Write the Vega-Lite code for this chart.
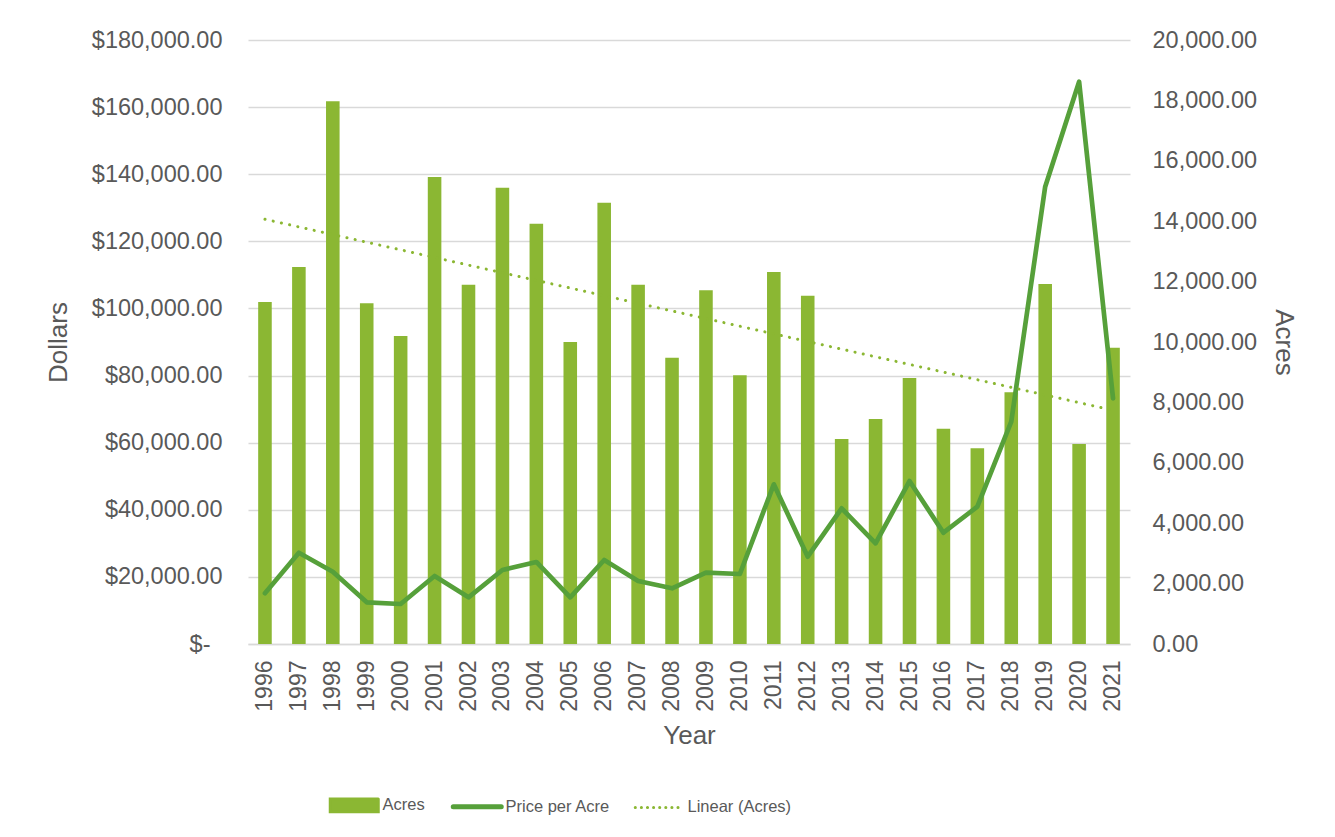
{
  "$schema": "https://vega.github.io/schema/vega-lite/v6.json",
  "width": 882,
  "height": 604,
  "autosize": {"type": "none"},
  "padding": {"left": 248, "top": 40, "right": 205, "bottom": 193},
  "background": "white",
  "config": {
    "view": {"stroke": null},
    "font": "Liberation Sans",
    "axis": {
      "labelFont": "Liberation Sans",
      "titleFont": "Liberation Sans",
      "labelColor": "#595959",
      "titleColor": "#595959",
      "titleFontWeight": "normal",
      "labelFontSize": 23.5,
      "titleFontSize": 26,
      "ticks": false
    }
  },
  "data": {
    "values": [
      {"Year": 1996, "Acres": 11325, "Price": 15110},
      {"Year": 1997, "Acres": 12483, "Price": 27210},
      {"Year": 1998, "Acres": 17970, "Price": 21550},
      {"Year": 1999, "Acres": 11281, "Price": 12420},
      {"Year": 2000, "Acres": 10199, "Price": 11920},
      {"Year": 2001, "Acres": 15464, "Price": 20265},
      {"Year": 2002, "Acres": 11897, "Price": 13910},
      {"Year": 2003, "Acres": 15110, "Price": 22050},
      {"Year": 2004, "Acres": 13917, "Price": 24440},
      {"Year": 2005, "Acres": 10000, "Price": 13910},
      {"Year": 2006, "Acres": 14613, "Price": 25030},
      {"Year": 2007, "Acres": 11897, "Price": 18775},
      {"Year": 2008, "Acres": 9480, "Price": 16600},
      {"Year": 2009, "Acres": 11712, "Price": 21250},
      {"Year": 2010, "Acres": 8897, "Price": 20860},
      {"Year": 2011, "Acres": 12318, "Price": 47590},
      {"Year": 2012, "Acres": 11534, "Price": 26020},
      {"Year": 2013, "Acres": 6788, "Price": 40430},
      {"Year": 2014, "Acres": 7450, "Price": 30000},
      {"Year": 2015, "Acres": 8808, "Price": 48575},
      {"Year": 2016, "Acres": 7130, "Price": 33170},
      {"Year": 2017, "Acres": 6479, "Price": 40920},
      {"Year": 2018, "Acres": 8333, "Price": 66250},
      {"Year": 2019, "Acres": 11921, "Price": 136280},
      {"Year": 2020, "Acres": 6623, "Price": 167570},
      {"Year": 2021, "Acres": 9812, "Price": 73220}
    ]
  },
  "encoding": {
    "x": {
      "field": "Year",
      "type": "ordinal",
      "scale": {"paddingInner": 0.6, "paddingOuter": 0.3},
      "axis": {
        "title": "Year",
        "labelAngle": -90,
        "labelFontSize": 23,
        "labelPadding": 16,
        "domain": true,
        "domainColor": "#D9D9D9",
        "domainWidth": 1.5,
        "grid": false,
        "titlePadding": 11
      }
    }
  },
  "layer": [
    {
      "mark": {"type": "bar"},
      "encoding": {
        "y": {
          "field": "Acres",
          "type": "quantitative",
          "scale": {"domain": [0, 20000], "nice": false},
          "axis": {
            "orient": "right",
            "title": "Acres",
            "values": [0, 2000, 4000, 6000, 8000, 10000, 12000, 14000, 16000, 18000, 20000],
            "format": ",.2f",
            "grid": false,
            "domain": false,
            "labelPadding": 22,
            "titlePadding": 14
          }
        },
        "color": {
          "datum": "Acres",
          "type": "nominal",
          "scale": {
            "domain": ["Acres", "Price per Acre", "Linear (Acres)"],
            "range": ["#8BB733", "#56A03A", "#8BB733"]
          },
          "legend": {
            "title": null,
            "orient": "none",
            "direction": "horizontal",
            "legendX": 98,
            "legendY": 757,
            "padding": 0,
            "symbolSize": 2304,
            "labelFont": "Liberation Sans",
            "labelFontSize": 16.5,
            "labelColor": "#595959",
            "labelOffset": 20,
            "columnPadding": 18,
            "encode": {
              "symbols": {
                "update": {
                  "shape": {"signal": "datum.value === 'Acres' ? 'M-1,-0.27H1V0.27H-1Z' : 'stroke'"},
                  "fill": {"signal": "datum.value === 'Acres' ? '#8BB733' : 'transparent'"},
                  "stroke": {"signal": "datum.value === 'Acres' ? 'transparent' : (datum.value === 'Price per Acre' ? '#56A03A' : '#8BB733')"},
                  "strokeWidth": {"signal": "datum.value === 'Price per Acre' ? 5 : 3"},
                  "strokeDash": {"signal": "datum.value === 'Linear (Acres)' ? [0.1, 6] : [1, 0]"},
                  "strokeCap": {"value": "round"},
                  "opacity": {"value": 1}
                }
              }
            }
          }
        }
      }
    },
    {
      "mark": {"type": "line", "strokeWidth": 4.7, "strokeJoin": "round", "strokeCap": "round"},
      "encoding": {
        "y": {
          "field": "Price",
          "type": "quantitative",
          "scale": {"domain": [0, 180000], "nice": false},
          "axis": {
            "orient": "left",
            "title": "Dollars",
            "values": [0, 20000, 40000, 60000, 80000, 100000, 120000, 140000, 160000, 180000],
            "labelExpr": "datum.value === 0 ? '$-' : '$' + format(datum.value, ',.2f')",
            "grid": true,
            "gridColor": "#D9D9D9",
            "gridWidth": 1.5,
            "domain": false,
            "labelPadding": {"condition": {"test": "datum.value === 0", "value": 38}, "value": 26},
            "titlePadding": 20
          }
        },
        "color": {"datum": "Price per Acre", "type": "nominal"}
      }
    },
    {
      "transform": [{"regression": "Acres", "on": "Year"}],
      "mark": {"type": "line", "strokeWidth": 3, "strokeDash": [0.1, 8.3], "strokeCap": "round"},
      "encoding": {
        "y": {
          "field": "Acres",
          "type": "quantitative",
          "scale": {"domain": [0, 20000], "nice": false},
          "axis": null
        },
        "color": {"datum": "Linear (Acres)", "type": "nominal"}
      }
    }
  ],
  "resolve": {"scale": {"y": "independent"}, "axis": {"y": "independent"}}
}
